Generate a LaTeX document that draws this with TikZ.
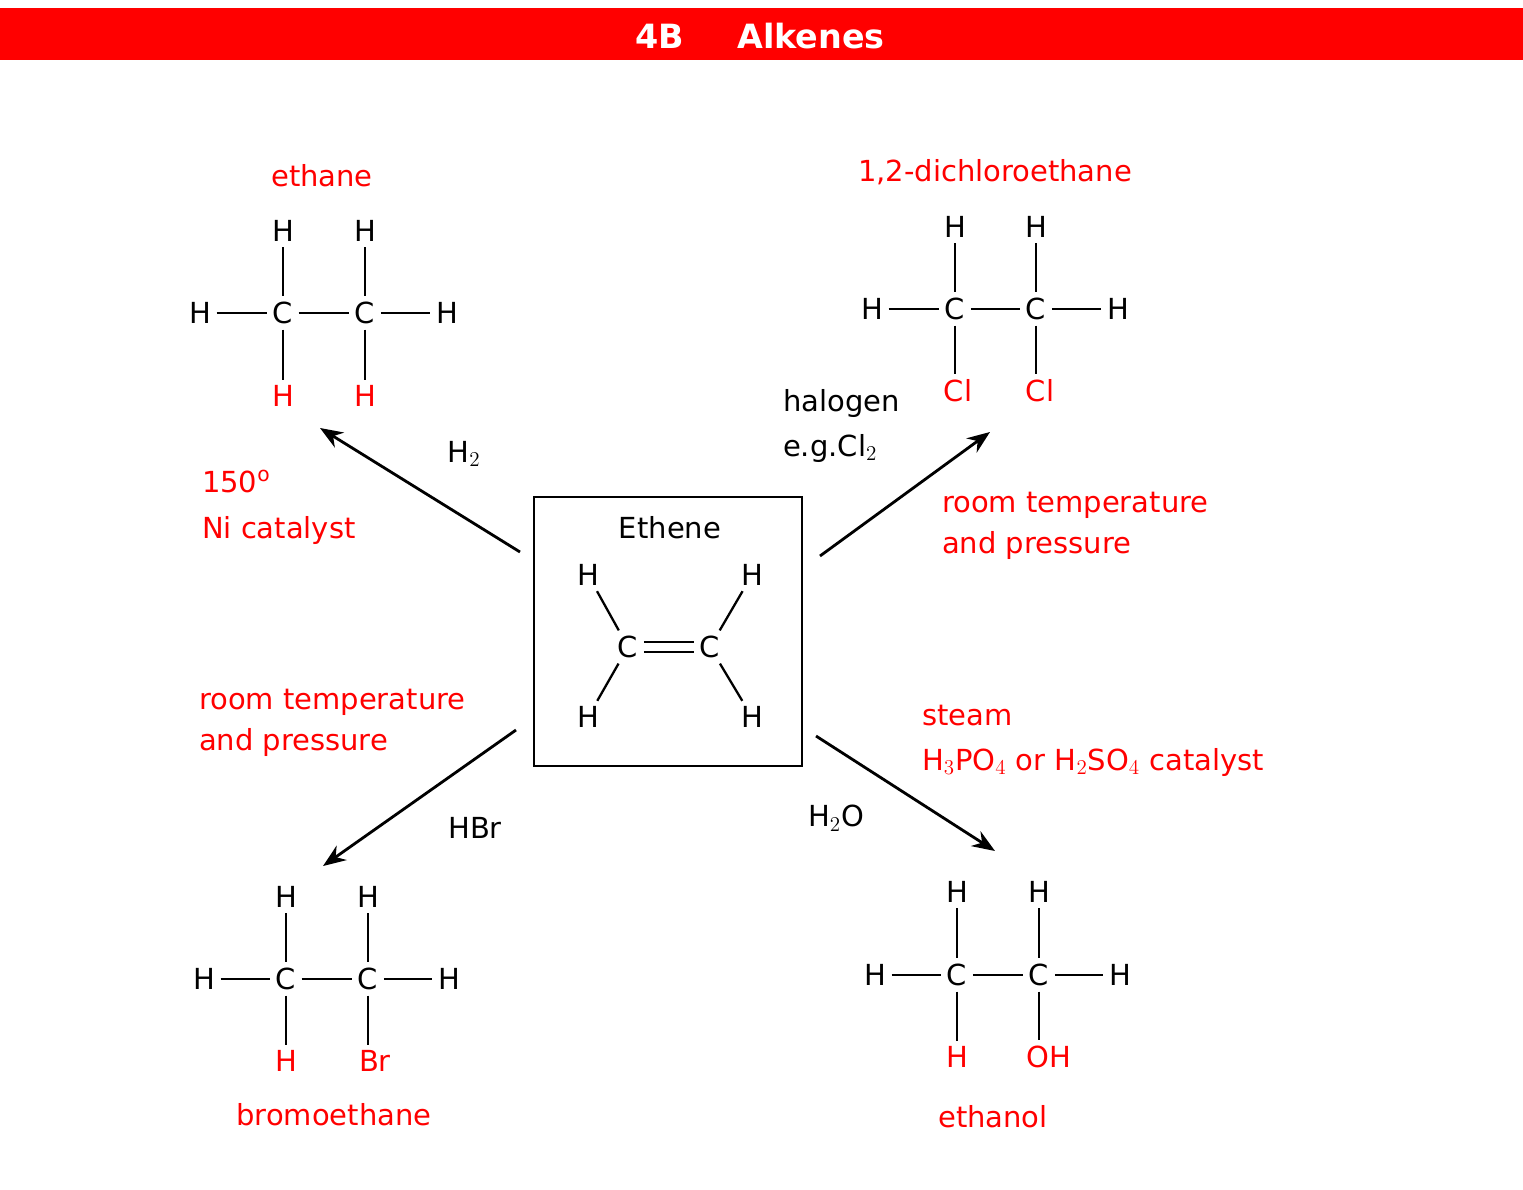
\documentclass[tikz,border=0pt]{standalone}
\usepackage{fontspec}
\setmainfont{DejaVu Sans}
\usetikzlibrary{arrows.meta}
\definecolor{hdr}{RGB}{255,0,0}
\tikzset{
 lbl/.style={font=\fontsize{16.5}{20}\selectfont, inner sep=1pt},
 rl/.style={lbl,text=hdr},
 atm/.style={lbl,inner sep=3pt},
 bond/.style={line width=1.3pt},
 arr/.style={line width=1.6pt,-{Stealth[length=13pt,width=10pt]}},
}
\begin{document}
\begin{tikzpicture}[x=0.02cm,y=-0.02cm]
\useasboundingbox (0,0) rectangle (1523,1189);
\fill[hdr] (0,8) rectangle (1523,60);
\node[text=white,font=\fontsize{19}{22}\selectfont\bfseries] (title) at (760,36) {4B\hspace{1.6em}Alkenes};

% ethane
\node[atm] (a1) at (283,313) {C}; \node[atm] (a2) at (365,313) {C};
\node[atm] (aL) at (200,313) {H}; \node[atm] (aR) at (447,313) {H};
\node[atm] (aT1) at (283,231) {H}; \node[atm] (aT2) at (365,231) {H};
\node[atm,text=hdr] (aB1) at (283,396) {H}; \node[atm,text=hdr] (aB2) at (365,396) {H};
\draw[bond] (aL)--(a1) (a1)--(a2) (a2)--(aR) (aT1)--(a1) (aT2)--(a2) (a1)--(aB1) (a2)--(aB2);
\node[rl] (n1) at (322,176) {ethane};

% dichloroethane
\node[atm] (b1) at (955,309) {C}; \node[atm] (b2) at (1036,309) {C};
\node[atm] (bL) at (872,309) {H}; \node[atm] (bR) at (1118,309) {H};
\node[atm] (bT1) at (955,227) {H}; \node[atm] (bT2) at (1036,227) {H};
\node[atm,text=hdr] (bB1) at (958,391) {Cl}; \node[atm,text=hdr] (bB2) at (1040,391) {Cl};
\draw[bond] (bL)--(b1) (b1)--(b2) (b2)--(bR) (bT1)--(b1) (bT2)--(b2) (b1.south)--(b1.south|-bB1.north) (b2.south)--(b2.south|-bB2.north);
\node[rl] (n2) at (995,172) {1,2-dichloroethane};

% bromoethane
\node[atm] (c1) at (286,979) {C}; \node[atm] (c2) at (368,979) {C};
\node[atm] (cL) at (204,979) {H}; \node[atm] (cR) at (449,979) {H};
\node[atm] (cT1) at (286,897) {H}; \node[atm] (cT2) at (368,897) {H};
\node[atm,text=hdr] (cB1) at (286,1061) {H}; \node[atm,text=hdr] (cB2) at (375,1061) {Br};
\draw[bond] (cL)--(c1) (c1)--(c2) (c2)--(cR) (cT1)--(c1) (cT2)--(c2) (c1)--(cB1) (c2.south)--(c2.south|-cB2.north);
\node[rl] (n3) at (334,1115) {bromoethane};

% ethanol
\node[atm] (d1) at (957,975) {C}; \node[atm] (d2) at (1039,975) {C};
\node[atm] (dL) at (875,975) {H}; \node[atm] (dR) at (1120,975) {H};
\node[atm] (dT1) at (957,892) {H}; \node[atm] (dT2) at (1039,892) {H};
\node[atm,text=hdr] (dB1) at (957,1057) {H}; \node[atm,text=hdr] (dB2) at (1049,1057) {OH};
\draw[bond] (dL)--(d1) (d1)--(d2) (d2)--(dR) (dT1)--(d1) (dT2)--(d2) (d1)--(dB1) (d2.south)--(d2.south|-dB2.north);
\node[rl] (n4) at (993,1117) {ethanol};

% ethene box
\node[draw,line width=1.5pt,minimum width=5.36cm,minimum height=5.38cm] (box) at (668,631.5) {};
\node[lbl] (en) at (670,528) {Ethene};
\node[atm] (e1) at (628,647) {C}; \node[atm] (e2) at (710,647) {C};
\node[atm] (e3) at (588,575) {H}; \node[atm] (e4) at (752,575) {H};
\node[atm] (e5) at (588,717) {H}; \node[atm] (e6) at (752,717) {H};
\draw[bond] (e3)--(e1) (e5)--(e1) (e4)--(e2) (e6)--(e2);
\draw[bond] ([yshift=3pt]e1.east)--([yshift=3pt]e2.west) ([yshift=-3pt]e1.east)--([yshift=-3pt]e2.west);

% arrows
\coordinate (s1) at (520,552); \coordinate (t1) at (320,428);
\coordinate (s2) at (820,556); \coordinate (t2) at (990,432);
\coordinate (s3) at (516,730); \coordinate (t3) at (323,866);
\coordinate (s4) at (816,736); \coordinate (t4) at (995,851);
\draw[arr] (s1)--(t1); \draw[arr] (s2)--(t2); \draw[arr] (s3)--(t3); \draw[arr] (s4)--(t4);

% conditions
\node[lbl] (r1) at (464,454) {H$_2$};
\node[rl,anchor=west] (c150) at (200,482) {150$^{\mathrm{o}}$};
\node[rl,anchor=west] (ni) at (200,530) {Ni catalyst};
\node[lbl,anchor=west] (hal) at (781,403) {halogen};
\node[lbl,anchor=west] (eg) at (781,448) {e.g.Cl$_2$};
\node[rl,anchor=west] (rt1) at (940,505) {room temperature};
\node[rl,anchor=west] (ap1) at (940,545) {and pressure};
\node[rl,anchor=west] (rt2) at (197,702) {room temperature};
\node[rl,anchor=west] (ap2) at (197,742) {and pressure};
\node[lbl] (hbr) at (475,828) {HBr};
\node[rl,anchor=west] (st) at (920,716) {steam};
\node[rl,anchor=west] (cat) at (920,762) {H$_3$PO$_4$ or H$_2$SO$_4$ catalyst};
\node[lbl] (h2o) at (836,818) {H$_2$O};
\end{tikzpicture}
\end{document}
